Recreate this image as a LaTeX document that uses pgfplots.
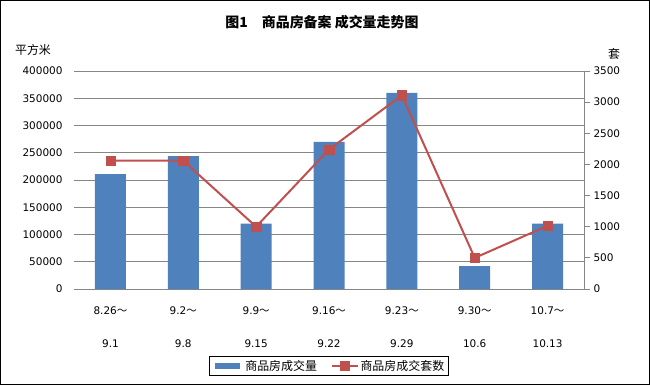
\documentclass[border=0pt]{standalone}
\usepackage{fontspec}
\setmainfont{DejaVu Sans}
\newfontfamily\cjk{Noto Sans CJK SC}
\usepackage{pgfplots}
\pgfplotsset{compat=1.18}
\definecolor{barblue}{HTML}{4F81BD}
\definecolor{linered}{HTML}{C0504D}
\definecolor{gridgray}{HTML}{868686}
\begin{document}
\begin{tikzpicture}[x=1bp,y=-1bp]
\begin{axis}[
  at={(74bp,-289bp)}, anchor=south west, scale only axis,
  width=510bp, height=218bp,
  xmin=-0.5, xmax=6.5, ymin=0, ymax=400000,
  xtick={0,...,6},
  xticklabels={{8.26{\cjk ～}\\[21bp]9.1},{9.2{\cjk ～}\\[21bp]9.8},{9.9{\cjk ～}\\[21bp]9.15},{9.16{\cjk ～}\\[21bp]9.22},{9.23{\cjk ～}\\[21bp]9.29},{9.30{\cjk ～}\\[21bp]10.6},{10.7{\cjk ～}\\[21bp]10.13}},
  xticklabel style={align=center, anchor=north, yshift=-14bp},
  ytick={0,50000,...,400000},
  ymajorgrids, grid style={gridgray, line width=0.8bp},
  axis x line*=bottom, axis y line*=left,
  axis line style={draw=none},
  major tick length=0pt,
  scaled y ticks=false,
  /pgf/number format/assume math mode=true,
  yticklabel style={/pgf/number format/fixed, /pgf/number format/1000 sep={}, anchor=east, xshift=-8bp},
  ticklabel style={font=\fontsize{10.5}{12.5}\selectfont},
]
\addplot[ybar, bar width=31bp, fill=barblue, draw=none] coordinates {(0,211000) (1,244000) (2,120000) (3,270000) (4,360000) (5,42000) (6,120000)};
\end{axis}
\begin{axis}[
  at={(74bp,-289bp)}, anchor=south west, scale only axis,
  width=510bp, height=218bp,
  xmin=-0.5, xmax=6.5, ymin=0, ymax=3500,
  ytick={0,500,...,3500},
  axis y line*=right, axis x line=none,
  y axis line style={gridgray, line width=0.8bp},
  ytick style={gridgray, line width=0.8bp},
  tick align=outside, major tick length=6bp,
  /pgf/number format/assume math mode=true,
  yticklabel style={/pgf/number format/fixed, /pgf/number format/1000 sep={}, anchor=west, font=\fontsize{10.5}{12.5}\selectfont},
  legend style={at={(0.5,-0.353)}, anchor=center, legend columns=2, draw=black, line width=0.8bp,
    font=\cjk\fontsize{12}{14}\selectfont, inner sep=2bp,
    /tikz/every even column/.append style={column sep=12bp}},
  legend image code/.code={\draw[mark repeat=2,mark phase=2] plot coordinates {(0cm,0cm) (0.45cm,0cm) (0.9cm,0cm)};},
]
\addlegendimage{draw=barblue, line width=6bp}
\addlegendentry{商品房成交量}
\addplot[linered, line width=2bp, mark=square*, mark size=4.7bp, mark options={fill=linered, draw=linered, line width=0.4bp}] coordinates {(0,2060) (1,2060) (2,1000) (3,2240) (4,3110) (5,500) (6,1015)};
\addlegendentry{商品房成交套数}
\end{axis}
\node[font=\cjk\bfseries\fontsize{14}{16}\selectfont] at (322,22) {图1\hspace{14bp}商品房备案 成交量走势图};
\node[font=\cjk\fontsize{12}{14}\selectfont] at (33,50) {平方米};
\node[font=\cjk\fontsize{12}{14}\selectfont] at (614,54) {套};
\draw[black, line width=1bp] (0.5,0.5) rectangle (649.5,384.5);
\pgfresetboundingbox
\path[use as bounding box] (0,0) rectangle (650,385);
\end{tikzpicture}
\end{document}
